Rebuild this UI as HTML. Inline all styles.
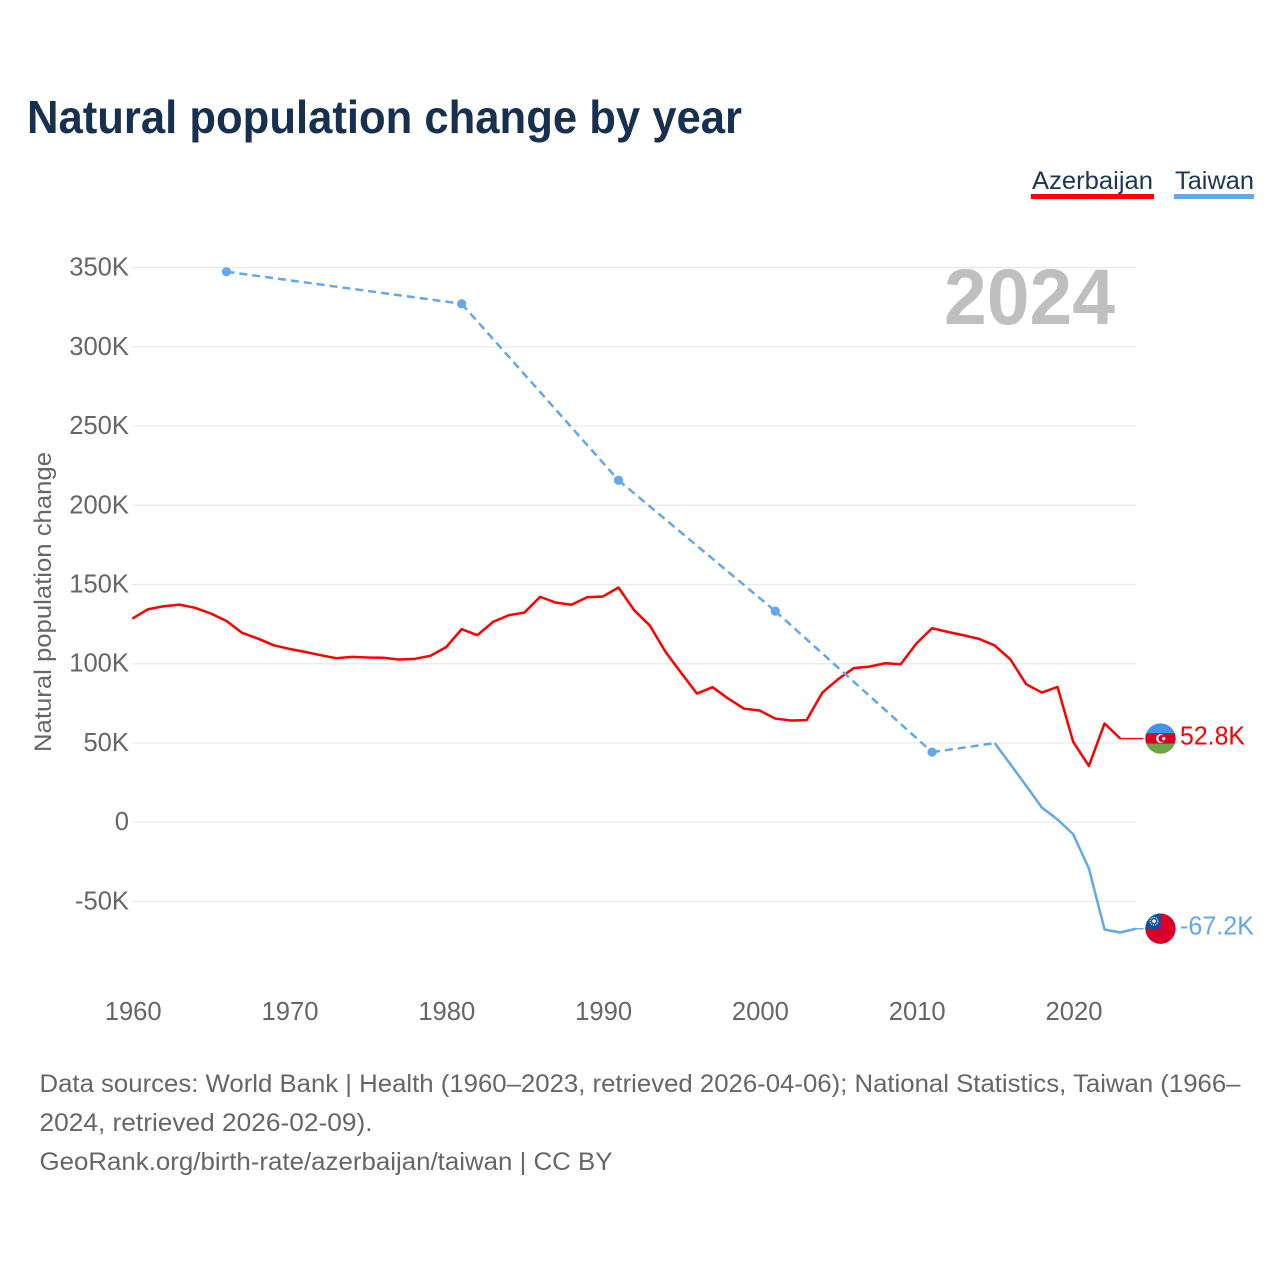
<!DOCTYPE html>
<html lang="en">
<head>
<meta charset="utf-8">
<title>Natural population change by year</title>
<style>
html,body{margin:0;padding:0;background:#fff;}
svg{display:block;font-family:"Liberation Sans",sans-serif;}
</style>
</head>
<body>
<svg id="chart" width="1280" height="1280" viewBox="0 0 1280 1280" xmlns="http://www.w3.org/2000/svg">
  <defs>
    <clipPath id="flag-clip"><circle cx="0" cy="0" r="15.2"></circle></clipPath>
  </defs>
  <rect x="0" y="0" width="1280" height="1280" fill="#fff"></rect>
  <text x="27" y="133" font-size="46" font-weight="700" fill="#18304f" textLength="715" lengthAdjust="spacingAndGlyphs">Natural population change by year</text>

  <g>
    <g>
      <text x="1032" y="189" font-size="25" fill="#1d3557" textLength="121" lengthAdjust="spacingAndGlyphs">Azerbaijan</text>
      <rect x="1031" y="194" width="123" height="5" fill="#ff0000"></rect>
    </g>
    <g>
      <text x="1175" y="189" font-size="25" fill="#1d3557" textLength="79" lengthAdjust="spacingAndGlyphs">Taiwan</text>
      <rect x="1174" y="194" width="80" height="5" fill="#63a7ec"></rect>
    </g>
  </g>

  <g id="grid"></g>
  <text x="944" y="324" font-size="79" font-weight="700" fill="#bfbfbf" textLength="171" lengthAdjust="spacingAndGlyphs">2024</text>
  <g id="y-axis"></g>
  <g id="x-axis"></g>
  <text transform="translate(51 752) rotate(-90)" x="0" y="0" font-size="24" fill="#666666" textLength="300" lengthAdjust="spacingAndGlyphs">Natural population change</text>
  <g id="series"></g>

  <g id="flag-azerbaijan">
    <g clip-path="url(#flag-clip)">
      <rect x="-16" y="-16" width="32" height="11" fill="#3f95e8"></rect>
      <rect x="-16" y="-5.3" width="32" height="10.6" fill="#d80027"></rect>
      <rect x="-16" y="5.3" width="32" height="11" fill="#6da544"></rect>
      <circle cx="0" cy="0" r="4.4" fill="#fff"></circle>
      <circle cx="1.3" cy="0" r="3.5" fill="#d80027"></circle>
      <circle cx="3.2" cy="0" r="1.7" fill="#fff"></circle>
    </g>
  </g>
  <g id="flag-taiwan">
    <g clip-path="url(#flag-clip)">
      <rect x="-16" y="-16" width="32" height="32" fill="#d80027"></rect>
      <rect x="-16" y="-16" width="16" height="16" fill="#0052b4"></rect>
      <circle cx="-6.5" cy="-7.5" r="3.8" fill="none" stroke="#fff" stroke-width="1.2" stroke-dasharray="1 1"></circle>
      <circle cx="-6.5" cy="-7.5" r="1.8" fill="#fff"></circle>
    </g>
  </g>

  <g font-size="25" fill="#666666">
    <text x="39.5" y="1092" textLength="1201" lengthAdjust="spacingAndGlyphs">Data sources: World Bank | Health (1960–2023, retrieved 2026-04-06); National Statistics, Taiwan (1966–</text>
    <text x="39.5" y="1131" textLength="333" lengthAdjust="spacingAndGlyphs">2024, retrieved 2026-02-09).</text>
    <text x="39.5" y="1170" textLength="573" lengthAdjust="spacingAndGlyphs">GeoRank.org/birth-rate/azerbaijan/taiwan | CC BY</text>
  </g>
</svg>
<script>
const yTicks = [350, 300, 250, 200, 150, 100, 50, 0, -50];
const yTickLabels = ["350K", "300K", "250K", "200K", "150K", "100K", "50K", "0", "-50K"];
const xTicks = [1960, 1970, 1980, 1990, 2000, 2010, 2020];
const xTickLabels = ["1960", "1970", "1980", "1990", "2000", "2010", "2020"];

const azerbaijanYears = [1960,1961,1962,1963,1964,1965,1966,1967,1968,1969,1970,1971,1972,1973,1974,1975,1976,1977,1978,1979,1980,1981,1982,1983,1984,1985,1986,1987,1988,1989,1990,1991,1992,1993,1994,1995,1996,1997,1998,1999,2000,2001,2002,2003,2004,2005,2006,2007,2008,2009,2010,2011,2012,2013,2014,2015,2016,2017,2018,2019,2020,2021,2022,2023];
const azerbaijanValues = [128.5,134.4,136.3,137.3,135.3,131.7,127,119.5,115.9,111.7,109.4,107.5,105.4,103.5,104.3,103.9,103.8,102.7,103.1,105,110.4,121.8,118,126.4,130.6,132.3,142.2,138.6,137.2,142,142.4,148.1,133.8,124.1,107.5,94.2,81.2,85.2,78,71.7,70.5,65.4,64.2,64.4,81.8,90.2,97.2,98.2,100.3,99.7,112.8,122.4,120.1,118,115.7,111.5,102.7,87.1,81.8,85.4,50.7,35.5,62.3,52.8];
const taiwanYears = [1966,1981,1991,2001,2011,2015,2016,2017,2018,2019,2020,2021,2022,2023,2024];
const taiwanValues = [347.4,327.2,215.8,133.2,44.2,49.9,36.5,23,9.3,1.7,-7.6,-29.2,-67.7,-69.6,-67.2];
const azerbaijanEndLabel = "52.8K";
const taiwanEndLabel = "-67.2K";

const SVG_NS = "http://www.w3.org/2000/svg";
const plot = { xStart: 132.4, xPerYear: 15.68, yZero: 822.2, yPerK: 1.5846, right: 1136, flagX: 1160.5 };
function xScale(year) { return plot.xStart + (year - 1960) * plot.xPerYear; }
function yScale(value) { return plot.yZero - value * plot.yPerK; }
function make(tag, attrs, parent, text) {
  const el = document.createElementNS(SVG_NS, tag);
  for (const key in attrs) el.setAttribute(key, attrs[key]);
  if (text !== undefined) el.textContent = text;
  parent.appendChild(el);
  return el;
}

const gridLayer = document.getElementById("grid");
const yAxisLayer = document.getElementById("y-axis");
const xAxisLayer = document.getElementById("x-axis");
const seriesLayer = document.getElementById("series");

yTicks.forEach(function (tick, i) {
  const line = make("line", { x1: plot.xStart, x2: plot.right, y1: yScale(tick), y2: yScale(tick), stroke: "#e9e9e9", "stroke-width": 1.2 }, gridLayer);
  
  
  const label = make("text", { x: 129, y: yScale(tick) + 8, "text-anchor": "end", "font-size": 25.6, fill: "#666666" }, yAxisLayer, yTickLabels[i]);
  
  
});

xTicks.forEach(function (tick, i) {
  const label = make("text", { x: xScale(tick) + 0.8, y: 1020, "text-anchor": "middle", "font-size": 25.6, fill: "#666666" }, xAxisLayer, xTickLabels[i]);
  
  
});

function drawSeries(years, values, color, key) {
  let run = [];
  function flush() {
    if (run.length > 1) {
      const pts = run.map(function (i) { return xScale(years[i]).toFixed(2) + "," + yScale(values[i]).toFixed(2); }).join(" ");
      const solid = make("polyline", { points: pts, fill: "none", stroke: color, "stroke-width": 2.5, "stroke-linejoin": "round" }, seriesLayer);
      
      
    }
    run = [];
  }
  years.forEach(function (year, i) {
    if (i > 0 && year - years[i - 1] > 1) {
      flush();
      const gap = make("line", { x1: xScale(years[i - 1]), y1: yScale(values[i - 1]), x2: xScale(year), y2: yScale(values[i]), stroke: color, "stroke-width": 2.5, "stroke-dasharray": "8 5" }, seriesLayer);
      
      
    }
    run.push(i);
  });
  flush();
  years.forEach(function (year, i) {
    const hasPrev = i > 0 && year - years[i - 1] === 1;
    const hasNext = i < years.length - 1 && years[i + 1] - year === 1;
    if (!hasPrev && !hasNext) {
      const dot = make("circle", { cx: xScale(year), cy: yScale(values[i]), r: 4.6, fill: color }, seriesLayer);
      
      
    }
  });
  const lastIndex = years.length - 1;
  const conn = make("line", { x1: xScale(years[lastIndex]), y1: yScale(values[lastIndex]), x2: plot.flagX - 17, y2: yScale(values[lastIndex]), stroke: color, "stroke-width": 1.4 }, seriesLayer);
  
  
}

drawSeries(azerbaijanYears, azerbaijanValues, "#ff0000", "azerbaijan");
drawSeries(taiwanYears, taiwanValues, "#63a7ec", "taiwan");

const azEndY = yScale(azerbaijanValues[azerbaijanValues.length - 1]);
const twEndY = yScale(taiwanValues[taiwanValues.length - 1]);
document.getElementById("flag-azerbaijan").setAttribute("transform", "translate(" + plot.flagX + " " + azEndY + ")");
document.getElementById("flag-taiwan").setAttribute("transform", "translate(" + plot.flagX + " " + twEndY + ")");

const azLabel = make("text", { x: 1180, y: azEndY + 6, "font-size": 25.6, fill: "#ff0000", textLength: 65, lengthAdjust: "spacingAndGlyphs" }, seriesLayer, azerbaijanEndLabel);


const twLabel = make("text", { x: 1180, y: twEndY + 6, "font-size": 25.6, fill: "#63a7ec", textLength: 74, lengthAdjust: "spacingAndGlyphs" }, seriesLayer, taiwanEndLabel);


</script>
</body>
</html>
